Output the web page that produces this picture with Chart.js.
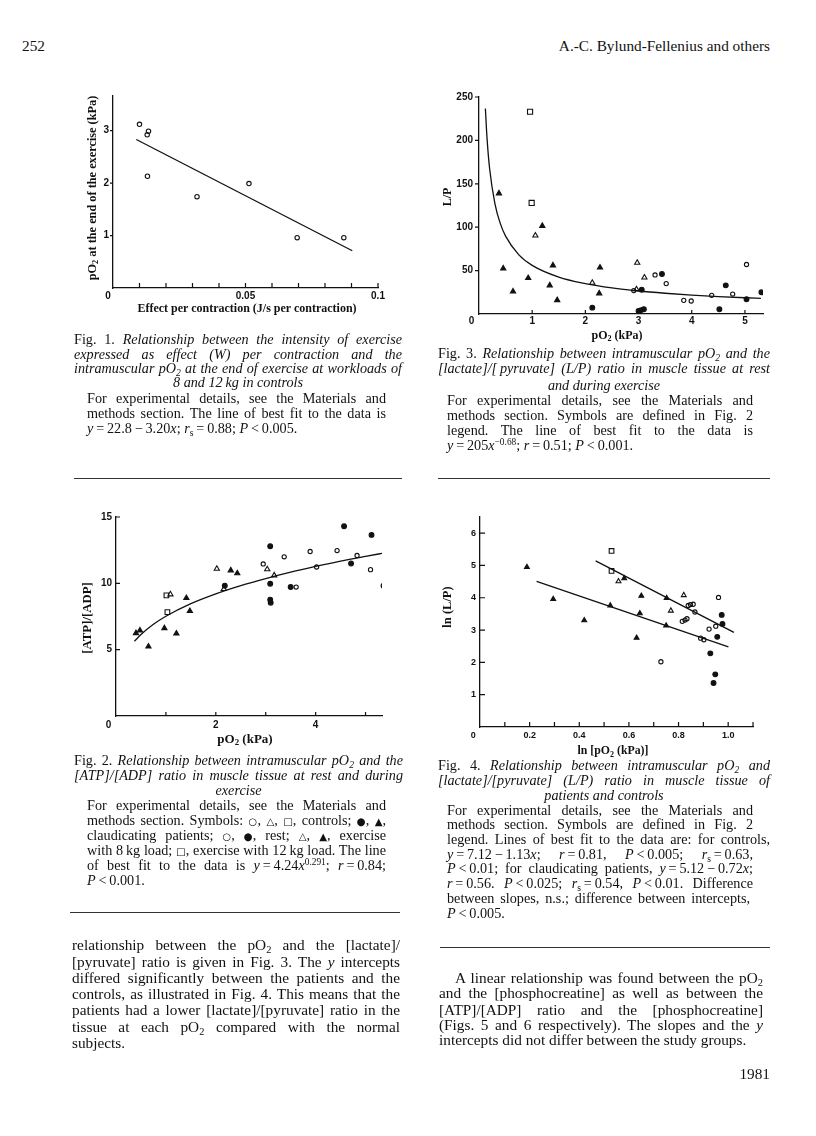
<!DOCTYPE html>
<html><head><meta charset="utf-8">
<script src="https://cdn.jsdelivr.net/npm/chart.js@4.4.1/dist/chart.umd.min.js"></script>
<style>
html,body{margin:0;padding:0;background:#fff;}
body{width:816px;height:1136px;position:relative;overflow:hidden;font-family:"Liberation Serif","Times New Roman",serif;color:#111;}
.ln{position:absolute;white-space:nowrap;line-height:1;}
.ln span.in{display:inline-block;white-space:nowrap;}
canvas{position:absolute;}
.ax{position:absolute;font-family:"Liberation Serif",serif;font-weight:bold;white-space:nowrap;line-height:1;color:#111;}
sub{font-size:0.68em;vertical-align:-0.3em;line-height:0;}
sup{font-size:0.66em;vertical-align:0.5em;line-height:0;}
.sym{font-family:"DejaVu Sans",sans-serif;font-size:0.72em;font-style:normal;}
.rule{position:absolute;height:0;border-top:1.3px solid #333;}
</style></head><body>
<canvas id="c1"></canvas><canvas id="c2"></canvas><canvas id="c3"></canvas><canvas id="c4"></canvas>
<script>
// ---------- DATA ----------
// Fig. 1
const fig1X = [0.0100, 0.0134, 0.0129, 0.0130, 0.0317, 0.0513, 0.0695, 0.0871];
const fig1Y = [3.12, 2.99, 2.92, 2.13, 1.74, 1.99, 0.96, 0.96];
const fig1FitX = [0.0088, 0.0903];
const fig1FitY = [2.83, 0.71];
const fig1XTicks = [0, 0.01, 0.02, 0.03, 0.04, 0.05, 0.06, 0.07, 0.08, 0.09, 0.1];
const fig1XLabels = ['0\u2002\u2002', '', '', '', '', '0.05', '', '', '', '', '0.1'];
const fig1YTicks = [1, 2, 3];
const fig1YLabels = ['1', '2', '3'];

// Fig. 2
const fig2TriFX = [0.40, 0.48, 0.65, 0.97, 1.21, 1.41, 1.48, 2.30, 2.43];
const fig2TriFY = [6.25, 6.45, 5.24, 6.62, 6.22, 8.89, 7.91, 10.98, 10.76];
const fig2SqX = [1.01, 1.03];
const fig2SqY = [9.09, 7.83];
const fig2TriOX = [1.09, 2.02, 2.16, 3.03, 3.17];
const fig2TriOY = [9.17, 11.10, 9.57, 11.06, 10.60];
const fig2CirFX = [2.18, 3.09, 3.09, 3.09, 3.10, 3.50, 4.57, 5.12, 4.71, 5.36];
const fig2CirFY = [9.82, 12.80, 9.97, 8.77, 8.54, 9.72, 14.30, 13.65, 11.50, 9.82];
const fig2CirOX = [2.95, 3.37, 3.61, 3.89, 4.02, 4.43, 4.83, 5.10];
const fig2CirOY = [11.46, 12.00, 9.72, 12.40, 11.23, 12.47, 12.10, 11.03];
const fig2FitX = [0.37, 0.5, 0.75, 1, 1.5, 2, 2.5, 3, 3.5, 4, 4.5, 5, 5.39];
const fig2FitY = [5.63, 6.14, 6.91, 7.52, 8.47, 9.21, 9.83, 10.36, 10.84, 11.27, 11.67, 12.03, 12.30];
const fig2XTicks = [0, 1, 2, 3, 4, 5];
const fig2XLabels = ['0\u2002\u2002\u2002', '', '2', '', '4', ''];
const fig2YTicks = [5, 10, 15];
const fig2YLabels = ['5', '10', '15'];

// Fig. 3
const fig3SqX = [0.96, 0.99];
const fig3SqY = [233, 128];
const fig3TriFX = [0.375, 0.456, 0.64, 0.925, 1.19, 1.33, 1.39, 1.47, 2.26, 2.275];
const fig3TriFY = [139, 52.5, 26, 41.4, 101.5, 33, 56, 16, 23.8, 53.6];
const fig3TriOX = [1.06, 2.13, 2.975, 3.11, 2.96];
const fig3TriOY = [90.4, 36, 59, 42, 28.5];
const fig3CirFX = [2.13, 3.06, 3.0, 3.05, 3.1, 3.44, 4.52, 4.64, 5.03, 5.31];
const fig3CirFY = [7.3, 28, 3.5, 4.5, 5.5, 46, 5.4, 33, 17, 25];
const fig3CirOX = [2.91, 3.31, 3.52, 3.85, 3.99, 4.375, 4.77, 5.03];
const fig3CirOY = [27, 45, 35, 15.7, 15, 21.5, 23, 57];
const fig3FitX = [0.12, 0.15, 0.2, 0.3, 0.4, 0.5, 0.75, 1, 1.5, 2, 2.5, 3, 3.5, 4, 4.5, 5, 5.3];
const fig3FitY = [236.8, 203.5, 167.3, 127.0, 104.4, 89.7, 68.1, 56, 42.5, 35.0, 30.0, 26.5, 23.9, 21.8, 20.1, 18.7, 18.0];
const fig3XTicks = [0, 1, 2, 3, 4, 5];
const fig3XLabels = ['0\u2002\u2002\u2002', '1', '2', '3', '4', '5'];
const fig3YTicks = [50, 100, 150, 200, 250];
const fig3YLabels = ['50', '100', '150', '200', '250'];

// Fig. 4
const fig4TriFX = [0.189, 0.295, 0.42, 0.525, 0.581, 0.65, 0.644, 0.631, 0.752, 0.75];
const fig4TriFY = [4.95, 3.96, 3.30, 3.76, 4.60, 4.06, 3.52, 2.76, 3.99, 3.14];
const fig4SqX = [0.53, 0.53];
const fig4SqY = [5.45, 4.83];
const fig4TriOX = [0.558, 0.769, 0.821];
const fig4TriOY = [4.51, 3.60, 4.08];
const fig4CirFX = [0.941, 0.948, 0.928, 0.956, 0.974, 0.977];
const fig4CirFY = [1.36, 1.63, 2.28, 2.79, 3.47, 3.19];
const fig4CirOX = [0.729, 0.961, 0.950, 0.923, 0.889, 0.902, 0.815, 0.826, 0.834, 0.839, 0.848, 0.859, 0.866];
const fig4CirOY = [2.02, 4.01, 3.12, 3.03, 2.75, 2.70, 3.27, 3.31, 3.35, 3.76, 3.79, 3.80, 3.56];
const fig4FitCtrlX = [0.466, 1.023];
const fig4FitCtrlY = [5.14, 2.93];
const fig4FitPatX = [0.228, 1.001];
const fig4FitPatY = [4.51, 2.48];
const fig4XTicks = [0, 0.1, 0.2, 0.3, 0.4, 0.5, 0.6, 0.7, 0.8, 0.9, 1.0, 1.1];
const fig4XLabels = ['0\u2002\u2002\u2002', '', '0.2', '', '0.4', '', '0.6', '', '0.8', '', '1.0', ''];
const fig4YTicks = [1, 2, 3, 4, 5, 6];
const fig4YLabels = ['1', '2', '3', '4', '5', '6'];

// ---------- CHARTS ----------
const INK = '#111';
const P = 20, W = 40, H = 30;
function place(id, a) {
  const c = document.getElementById(id);
  const w = a.r - a.l + 2 * P + W, h = a.b - a.t + 2 * P + H;
  c.width = w; c.height = h;
  c.style.left = (a.l - P - W) + 'px'; c.style.top = (a.t - P) + 'px';
  c.style.width = w + 'px'; c.style.height = h + 'px';
  return c;
}
function pts(xs, ys) { return xs.map((x, i) => ({ x: x, y: ys[i] })); }
function mk(xs, ys, style, filled, r) {
  return { data: pts(xs, ys), pointStyle: style, pointRadius: r, pointBorderWidth: 1.1,
    pointBorderColor: INK, pointBackgroundColor: filled ? INK : 'rgba(0,0,0,0)',
    borderColor: INK, backgroundColor: filled ? INK : 'rgba(0,0,0,0)', showLine: false };
}
function fit(xs, ys) {
  return { data: pts(xs, ys), showLine: true, pointRadius: 0, borderColor: INK, borderWidth: 1.3,
    cubicInterpolationMode: 'monotone', fill: false };
}
function sc(axis, min, max, vals, labels, pad, size) {
  return {
    type: 'linear', min: min, max: max, position: axis === 'x' ? 'bottom' : 'left',
    afterBuildTicks: s => { s.ticks = vals.map(v => ({ value: v })); },
    afterFit: s => { if (axis === 'x') s.height = H; else s.width = W; },
    grid: { display: false, drawTicks: false },
    border: { display: true, color: INK, width: 1.3 },
    ticks: { autoSkip: false, maxRotation: 0, minRotation: 0, padding: pad, color: INK,
      font: { family: '"Liberation Sans", Arial, sans-serif', size: size, weight: 'bold' },
      callback: (v, i) => labels[i] }
  };
}
const tickMarks = {
  id: 'tickMarks',
  afterDatasetsDraw(chart, args, o) {
    const ctx = chart.ctx, xs = chart.scales.x, ys = chart.scales.y, ca = chart.chartArea;
    ctx.save(); ctx.strokeStyle = INK; ctx.lineWidth = 1.2; ctx.beginPath();
    xs.ticks.forEach(t => {
      const p = xs.getPixelForValue(t.value);
      if (Math.abs(p - ca.left) < 1) return;
      ctx.moveTo(p, ca.bottom); ctx.lineTo(p, ca.bottom + o.xDir * o.xLen);
    });
    ys.ticks.forEach(t => {
      const p = ys.getPixelForValue(t.value);
      if (Math.abs(p - ca.bottom) < 1) return;
      ctx.moveTo(ca.left, p); ctx.lineTo(ca.left + o.yDir * o.yLen, p);
    });
    ctx.stroke(); ctx.restore();
  }
};
function make(id, area, datasets, xs, ys, tm) {
  const c = place(id, area);
  return new Chart(c, {
    type: 'scatter',
    data: { datasets: datasets },
    options: {
      responsive: false, animation: false, devicePixelRatio: 1,
      layout: { padding: P },
      plugins: { legend: { display: false }, tooltip: { enabled: false }, tickMarks: tm },
      scales: { x: xs, y: ys }
    },
    plugins: [tickMarks]
  });
}

// Fig 1
make('c1', { l: 113, r: 378, t: 96, b: 288 },
  [fit(fig1FitX, fig1FitY), mk(fig1X, fig1Y, 'circle', false, 2.2)],
  sc('x', 0, 0.1, fig1XTicks, fig1XLabels, 2.5, 10),
  sc('y', 0, 3.66, fig1YTicks, fig1YLabels, 4, 10),
  { xDir: -1, xLen: 5, yDir: -1, yLen: 3 });

// Fig 3
make('c3', { l: 479, r: 763, t: 97, b: 314 },
  [fit(fig3FitX, fig3FitY),
   mk(fig3SqX, fig3SqY, 'rect', false, 3.6),
   mk(fig3TriFX, fig3TriFY, 'triangle', true, 3.0),
   mk(fig3TriOX, fig3TriOY, 'triangle', false, 3.0),
   mk(fig3CirFX, fig3CirFY, 'circle', true, 2.4),
   mk(fig3CirOX, fig3CirOY, 'circle', false, 2.1)],
  sc('x', 0, 5.34, fig3XTicks, fig3XLabels, 1.5, 10),
  sc('y', 0, 250, fig3YTicks, fig3YLabels, 6, 10),
  { xDir: -1, xLen: 4, yDir: -1, yLen: 4 });

// Fig 2
make('c2', { l: 116, r: 382, t: 517, b: 716 },
  [fit(fig2FitX, fig2FitY),
   mk(fig2SqX, fig2SqY, 'rect', false, 3.3),
   mk(fig2TriFX, fig2TriFY, 'triangle', true, 3.0),
   mk(fig2TriOX, fig2TriOY, 'triangle', false, 3.0),
   mk(fig2CirFX, fig2CirFY, 'circle', true, 2.4),
   mk(fig2CirOX, fig2CirOY, 'circle', false, 2.1)],
  sc('x', 0, 5.33, fig2XTicks, fig2XLabels, 3, 10),
  sc('y', 0, 15, fig2YTicks, fig2YLabels, 4, 10),
  { xDir: -1, xLen: 4, yDir: 1, yLen: 4 });

// Fig 4
make('c4', { l: 480, r: 753, t: 517, b: 727 },
  [fit(fig4FitCtrlX, fig4FitCtrlY), fit(fig4FitPatX, fig4FitPatY),
   mk(fig4SqX, fig4SqY, 'rect', false, 3.3),
   mk(fig4TriFX, fig4TriFY, 'triangle', true, 2.8),
   mk(fig4TriOX, fig4TriOY, 'triangle', false, 2.8),
   mk(fig4CirFX, fig4CirFY, 'circle', true, 2.4),
   mk(fig4CirOX, fig4CirOY, 'circle', false, 2.1)],
  sc('x', 0, 1.1, fig4XTicks, fig4XLabels, 3.5, 9),
  sc('y', 0, 6.5, fig4YTicks, fig4YLabels, 4, 9),
  { xDir: -1, xLen: 5, yDir: 1, yLen: 5 });

// ---------- TEXT ----------
const CAP = 14.2, BODY = 15.3;
const T = '\u2009';
function addLine(html, x, yc, w, align, size) {
  const d = document.createElement('div'); d.className = 'ln';
  d.style.left = x + 'px'; d.style.top = (yc - 0.61 * size) + 'px';
  d.style.fontSize = size + 'px'; d.style.width = w + 'px';
  const s = document.createElement('span'); s.className = 'in'; s.innerHTML = html;
  d.appendChild(s); document.body.appendChild(d);
  if (align === 'c') d.style.textAlign = 'center';
  else if (align === 'r') d.style.textAlign = 'right';
  else if (align === 'j') {
    const nat = s.getBoundingClientRect().width;
    const n = (s.textContent.match(/ /g) || []).length;
    if (n > 0) s.style.wordSpacing = ((w - nat) / n) + 'px';
  }
}
function axTitle(html, cx, cy, size, rot) {
  const d = document.createElement('div'); d.className = 'ax';
  d.style.left = cx + 'px'; d.style.top = cy + 'px'; d.style.fontSize = size + 'px';
  d.style.transform = 'translate(-50%,-50%)' + (rot ? ' rotate(-90deg)' : '');
  d.innerHTML = html; document.body.appendChild(d);
}
function rule(x, y, w) {
  const d = document.createElement('div'); d.className = 'rule';
  d.style.left = x + 'px'; d.style.top = y + 'px'; d.style.width = w + 'px';
  document.body.appendChild(d);
}
const O = '<span class="sym">○</span>', TR = '<span class="sym">△</span>', SQ = '<span class="sym">□</span>',
      FO = '<span class="sym">●</span>', FT = '<span class="sym">▲</span>';

// header
addLine('252', 22, 47, 60, 'l', BODY);
addLine('A.-C. Bylund-Fellenius and others', 470, 47, 300, 'r', BODY);

// axis titles
axTitle('Effect per contraction (J/s per contraction)', 247, 308, 12, false);
axTitle('pO<sub>2</sub> at the end of the exercise (kPa)', 92, 188, 12.3, true);
axTitle('L/P', 447, 197, 12, true);
axTitle('pO<sub>2</sub> (kPa)', 617, 335, 12, false);
axTitle('[ATP]/[ADP]', 87, 618, 12.8, true);
axTitle('pO<sub>2</sub> (kPa)', 245, 738, 13, false);
axTitle('ln (L/P)', 447, 607, 12.5, true);
axTitle('ln [pO<sub>2</sub> (kPa)]', 613, 751, 11.8, false);

// Fig 1 caption
addLine('Fig. 1. <i>Relationship between the intensity of exercise</i>', 74, 341, 328, 'j', CAP);
addLine('<i>expressed as effect (W) per contraction and the</i>', 74, 355.5, 328, 'j', CAP);
addLine('<i>intramuscular pO<sub>2</sub> at the end of exercise at workloads of</i>', 74, 370, 328, 'j', CAP);
addLine('<i>8 and 12' + T + 'kg in controls</i>', 74, 384, 328, 'c', CAP);
addLine('For experimental details, see the Materials and', 87, 400, 299, 'j', CAP);
addLine('methods section. The line of best fit to the data is', 87, 415, 299, 'j', CAP);
addLine('<i>y</i>' + T + '=' + T + '22.8' + T + '−' + T + '3.20<i>x</i>; <i>r</i><sub>s</sub>' + T + '=' + T + '0.88; <i>P</i>' + T + '&lt;' + T + '0.005.', 87, 430, 299, 'l', CAP);
rule(74, 478, 328);

// Fig 3 caption
addLine('Fig. 3. <i>Relationship between intramuscular pO<sub>2</sub> and the</i>', 438, 355, 332, 'j', CAP);
addLine('<i>[lactate]/[' + T + 'pyruvate] (L/P) ratio in muscle tissue at rest</i>', 438, 370, 332, 'j', CAP);
addLine('<i>and during exercise</i>', 438, 386.7, 332, 'c', CAP);
addLine('For experimental details, see the Materials and', 447, 401.7, 306, 'j', CAP);
addLine('methods section. Symbols are defined in Fig. 2', 447, 416.7, 306, 'j', CAP);
addLine('legend. The line of best fit to the data is', 447, 431.7, 306, 'j', CAP);
addLine('<i>y</i>' + T + '=' + T + '205<i>x</i><sup>−0.68</sup>; <i>r</i>' + T + '=' + T + '0.51; <i>P</i>' + T + '&lt;' + T + '0.001.', 447, 446.7, 306, 'l', CAP);
rule(438, 478, 332);

// Fig 2 caption
addLine('Fig. 2. <i>Relationship between intramuscular pO<sub>2</sub> and the</i>', 74, 761.7, 329, 'j', CAP);
addLine('<i>[ATP]/[ADP] ratio in muscle tissue at rest and during</i>', 74, 777, 329, 'j', CAP);
addLine('<i>exercise</i>', 74, 791.7, 329, 'c', CAP);
addLine('For experimental details, see the Materials and', 87, 806.7, 299, 'j', CAP);
addLine('methods section. Symbols: ' + O + ', ' + TR + ', ' + SQ + ', controls; ' + FO + ', ' + FT + ',', 87, 821.7, 299, 'j', CAP);
addLine('claudicating patients; ' + O + ', ' + FO + ', rest; ' + TR + ', ' + FT + ', exercise', 87, 836.7, 299, 'j', CAP);
addLine('with 8' + T + 'kg load; ' + SQ + ', exercise with 12' + T + 'kg load. The line', 87, 851.7, 299, 'j', CAP);
addLine('of best fit to the data is <i>y</i>' + T + '=' + T + '4.24<i>x</i><sup>0.291</sup>; <i>r</i>' + T + '=' + T + '0.84;', 87, 867, 299, 'j', CAP);
addLine('<i>P</i>' + T + '&lt;' + T + '0.001.', 87, 881.7, 299, 'l', CAP);
rule(70, 912, 330);

// Fig 4 caption
addLine('Fig. 4. <i>Relationship between intramuscular pO<sub>2</sub> and</i>', 438, 766.7, 332, 'j', CAP);
addLine('<i>[lactate]/[pyruvate] (L/P) ratio in muscle tissue of</i>', 438, 781.7, 332, 'j', CAP);
addLine('<i>patients and controls</i>', 438, 796.7, 332, 'c', CAP);
addLine('For experimental details, see the Materials and', 447, 811.7, 306, 'j', CAP);
addLine('methods section. Symbols are defined in Fig. 2', 447, 826, 306, 'j', CAP);
addLine('legend. Lines of best fit to the data are: for controls,', 447, 840.7, 323, 'j', CAP);
addLine('<i>y</i>' + T + '=' + T + '7.12' + T + '−' + T + '1.13<i>x</i>; <i>r</i>' + T + '=' + T + '0.81, <i>P</i>' + T + '&lt;' + T + '0.005; <i>r</i><sub>s</sub>' + T + '=' + T + '0.63,', 447, 856, 306, 'j', CAP);
addLine('<i>P</i>' + T + '&lt;' + T + '0.01; for claudicating patients, <i>y</i>' + T + '=' + T + '5.12' + T + '−' + T + '0.72<i>x</i>;', 447, 870, 306, 'j', CAP);
addLine('<i>r</i>' + T + '=' + T + '0.56. <i>P</i>' + T + '&lt;' + T + '0.025; <i>r</i><sub>s</sub>' + T + '=' + T + '0.54, <i>P</i>' + T + '&lt;' + T + '0.01. Difference', 447, 885, 306, 'j', CAP);
addLine('between slopes, n.s.; difference between intercepts,', 447, 900, 303, 'j', CAP);
addLine('<i>P</i>' + T + '&lt;' + T + '0.005.', 447, 915, 306, 'l', CAP);
rule(440, 947, 330);

// body text left
addLine('relationship between the pO<sub>2</sub> and the [lactate]/', 72, 946.7, 328, 'j', BODY);
addLine('[pyruvate] ratio is given in Fig. 3. The <i>y</i> intercepts', 72, 963, 328, 'j', BODY);
addLine('differed significantly between the patients and the', 72, 979, 328, 'j', BODY);
addLine('controls, as illustrated in Fig. 4. This means that the', 72, 995, 328, 'j', BODY);
addLine('patients had a lower [lactate]/[pyruvate] ratio in the', 72, 1011.7, 328, 'j', BODY);
addLine('tissue at each pO<sub>2</sub> compared with the normal', 72, 1028.3, 328, 'j', BODY);
addLine('subjects.', 72, 1044.5, 328, 'l', BODY);

// body text right
addLine('A linear relationship was found between the pO<sub>2</sub>', 455, 979.3, 308, 'j', BODY);
addLine('and the [phosphocreatine] as well as between the', 439, 994.3, 324, 'j', BODY);
addLine('[ATP]/[ADP] ratio and the [phosphocreatine]', 439, 1011, 324, 'j', BODY);
addLine('(Figs. 5 and 6 respectively). The slopes and the <i>y</i>', 439, 1026.7, 324, 'j', BODY);
addLine('intercepts did not differ between the study groups.', 439, 1041.7, 324, 'l', BODY);
addLine('1981', 670, 1075, 100, 'r', BODY);
</script>
</body></html>
